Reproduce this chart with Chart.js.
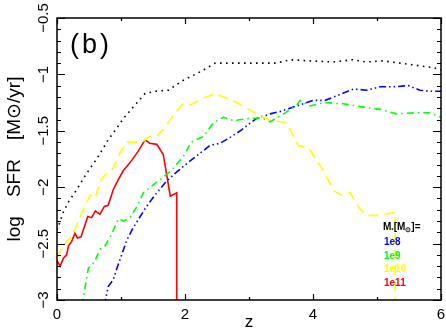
<!DOCTYPE html>
<html>
<head>
<meta charset="utf-8">
<script src="https://cdn.jsdelivr.net/npm/chart.js@4/dist/chart.umd.min.js"></script>
<style>
    html, body { margin: 0; padding: 0; background: #fff; }
    canvas { display: block; }
</style>
</head>
<body>
<canvas id="chart" width="446" height="333"></canvas>
<script>
// redshift / log SFR
var zAll = [0, 0.1, 0.18, 0.31, 0.46, 0.62, 0.8, 0.93, 1.04, 1.19, 1.375, 1.53, 1.74, 1.95, 2.26, 2.47, 2.65, 3.02, 3.43, 3.64, 3.95, 4.32, 4.62, 4.84, 5.1, 5.36, 5.62, 5.88, 6.0];
var sfrAll = [-2.38, -2.22, -2.13, -2.02, -1.88, -1.75, -1.58, -1.48, -1.39, -1.29, -1.17, -1.15, -1.14, -1.06, -0.97, -0.90, -0.90, -0.90, -0.90, -0.87, -0.88, -0.89, -0.87, -0.89, -0.88, -0.90, -0.92, -0.94, -0.96];

var z1e8 = [0.74, 0.80, 0.88, 0.93, 1.01, 1.09, 1.19, 1.30, 1.40, 1.53, 1.69, 1.84, 2.03, 2.21, 2.39, 2.55, 2.73, 2.89, 3.02, 3.12, 3.33, 3.48, 3.64, 3.85, 4.0, 4.19, 4.37, 4.63, 4.84, 5.05, 5.25, 5.49, 5.67, 5.83, 6.0];
var sfr1e8 = [-3.05, -2.88, -2.82, -2.73, -2.60, -2.47, -2.36, -2.26, -2.17, -2.07, -1.96, -1.88, -1.79, -1.71, -1.63, -1.61, -1.55, -1.49, -1.43, -1.39, -1.35, -1.33, -1.30, -1.26, -1.23, -1.23, -1.19, -1.13, -1.14, -1.11, -1.11, -1.10, -1.14, -1.15, -1.15];

var z1e9 = [0.39, 0.46, 0.49, 0.59, 0.67, 0.75, 0.85, 0.96, 1.04, 1.14, 1.25, 1.35, 1.48, 1.64, 1.79, 1.97, 2.10, 2.21, 2.29, 2.44, 2.60, 2.76, 3.02, 3.22, 3.33, 3.54, 3.75, 3.80, 3.95, 4.16, 4.47, 4.79, 5.05, 5.31, 5.62, 5.83, 6.0];
var sfr1e9 = [-3.05, -2.82, -2.72, -2.66, -2.55, -2.52, -2.42, -2.28, -2.30, -2.27, -2.17, -2.05, -1.99, -1.92, -1.85, -1.73, -1.60, -1.57, -1.55, -1.43, -1.38, -1.41, -1.39, -1.39, -1.42, -1.35, -1.27, -1.23, -1.28, -1.25, -1.26, -1.29, -1.31, -1.35, -1.34, -1.34, -1.38];

var z1e10 = [0, 0.07, 0.15, 0.23, 0.29, 0.41, 0.52, 0.59, 0.70, 0.78, 0.88, 0.98, 1.09, 1.25, 1.35, 1.48, 1.56, 1.71, 1.82, 1.97, 2.08, 2.29, 2.47, 2.78, 3.12, 3.30, 3.59, 3.77, 3.93, 4.16, 4.32, 4.45, 4.58, 4.73, 4.84, 5.05, 5.28, 5.29];
var sfr1e10 = [-2.63, -2.54, -2.48, -2.44, -2.36, -2.20, -2.07, -2.10, -1.92, -1.88, -1.83, -1.70, -1.60, -1.60, -1.59, -1.54, -1.55, -1.45, -1.36, -1.26, -1.27, -1.21, -1.17, -1.24, -1.35, -1.40, -1.43, -1.63, -1.65, -1.85, -2.03, -2.07, -2.05, -2.19, -2.25, -2.25, -2.22, -3.5];

var z1e11 = [0, 0.05, 0.10, 0.15, 0.18, 0.23, 0.28, 0.32, 0.375, 0.44, 0.48, 0.54, 0.60, 0.67, 0.74, 0.80, 0.88, 0.96, 1.04, 1.10, 1.17, 1.27, 1.375, 1.45, 1.56, 1.66, 1.77, 1.87, 1.87];
var sfr1e11 = [-2.65, -2.70, -2.63, -2.60, -2.52, -2.48, -2.41, -2.45, -2.44, -2.33, -2.26, -2.27, -2.21, -2.24, -2.17, -2.16, -2.02, -1.93, -1.85, -1.81, -1.76, -1.68, -1.58, -1.61, -1.62, -1.71, -2.08, -2.05, -3.5];

var massLabels = ['1e8', '1e9', '1e10', '1e11'];
var massColors = ['#0000ff', '#00ff00', '#ffff00', '#ff0000'];

var yTickValues = [-3, -2.5, -2, -1.5, -1, -0.5];
var yTickLabels = ['\u22123', '\u22122.5', '\u22122', '\u22121.5', '\u22121', '\u22120.5'];
var xTickValues = [0, 2, 4, 6];
var xTickLabels = ['0', '2', '4', '6'];

var FONT = '"Liberation Sans", Arial, sans-serif';

function pairs(xs, ys) {
    return xs.map(function (x, i) { return { x: x, y: ys[i] }; });
}

function line(label, xs, ys, color, dash) {
    return {
        label: label,
        data: pairs(xs, ys),
        borderColor: color,
        borderWidth: 1.6,
        borderDash: dash,
        pointRadius: 0,
        tension: 0,
        fill: false
    };
}

var frame = {
    id: 'frame',
    afterDraw: function (chart) {
        var ctx = chart.ctx, a = chart.chartArea;
        var xs = chart.scales.x, ys = chart.scales.y;
        var v, p, i;
        ctx.save();
        ctx.strokeStyle = '#000';
        ctx.lineWidth = 1.5;
        ctx.strokeRect(a.left, a.top, a.right - a.left, a.bottom - a.top);

        ctx.lineWidth = 1.2;
        ctx.beginPath();
        // y ticks every 0.1, big every 0.5
        for (i = 0; i <= 25; i++) {
            v = -3 + i * 0.1;
            p = Math.round(ys.getPixelForValue(v)) + 0.5;
            var len = (i % 5 === 0) ? 8 : 4;
            ctx.moveTo(a.left, p); ctx.lineTo(a.left + len, p);
            ctx.moveTo(a.right, p); ctx.lineTo(a.right - len, p);
        }
        // x ticks every 1, big every 2
        for (i = 0; i <= 6; i++) {
            p = Math.round(xs.getPixelForValue(i)) + 0.5;
            var l2 = (i % 2 === 0) ? 6 : 3;
            ctx.moveTo(p, a.bottom); ctx.lineTo(p, a.bottom - l2);
            ctx.moveTo(p, a.top); ctx.lineTo(p, a.top + l2);
        }
        ctx.stroke();

        // rotated y tick labels
        ctx.fillStyle = '#000';
        ctx.font = '15px ' + FONT;
        ctx.textAlign = 'center';
        ctx.textBaseline = 'middle';
        yTickValues.forEach(function (val, k) {
            ctx.save();
            ctx.translate(43.5, ys.getPixelForValue(val));
            ctx.rotate(-Math.PI / 2);
            ctx.fillText(yTickLabels[k], 0, 0);
            ctx.restore();
        });

        // panel tag
        ctx.font = '27px ' + FONT;
        ctx.textAlign = 'left';
        ctx.letterSpacing = '3px';
        ctx.fillText('(b)', 70, 46);
        ctx.letterSpacing = '0px';

        // mass key
        var x0 = 383, y0 = 227;
        ctx.font = 'bold 10px ' + FONT;
        var x = x0;
        ctx.fillText('M', x, y0); x += ctx.measureText('M').width;
        ctx.font = 'bold 6px ' + FONT;
        ctx.fillText('*', x, y0 + 3); x += ctx.measureText('*').width;
        ctx.font = 'bold 10px ' + FONT;
        ctx.fillText('[M', x, y0); x += ctx.measureText('[M').width;
        ctx.font = 'bold 7px ' + FONT;
        ctx.fillText('\u2299', x, y0 + 3); x += ctx.measureText('\u2299').width;
        ctx.font = 'bold 10px ' + FONT;
        ctx.fillText(']=', x, y0);
        massLabels.forEach(function (t, k) {
            ctx.fillStyle = massColors[k];
            ctx.fillText(t, x0 + 1, 242 + k * 13.8);
        });
        ctx.restore();
    }
};

var ctx = document.getElementById('chart').getContext('2d');

var chart = new Chart(ctx, {
    type: 'line',
    data: {
        datasets: [
            line('all', zAll, sfrAll, '#000000', [1.6, 4.4]),
            line('1e10', z1e10, sfr1e10, '#ffff00', [10, 6]),
            line('1e9', z1e9, sfr1e9, '#00ff00', [7, 4, 1.5, 4]),
            line('1e8', z1e8, sfr1e8, '#0000ff', [7, 3, 1.5, 3, 1.5, 3]),
            line('1e11', z1e11, sfr1e11, '#ff0000', [])
        ]
    },
    options: {
        responsive: false,
        devicePixelRatio: 1,
        animation: false,
        layout: { padding: { top: 18, right: 5, left: 0, bottom: 0 } },
        plugins: {
            legend: { display: false },
            tooltip: { enabled: false }
        },
        scales: {
            x: {
                type: 'linear',
                min: 0,
                max: 6,
                grid: { display: false, drawTicks: false },
                border: { display: false },
                afterFit: function (s) {
                    s.height = 33;
                    s.paddingLeft = 0;
                    s.paddingRight = 0;
                },
                afterBuildTicks: function (s) {
                    s.ticks = xTickValues.map(function (v) { return { value: v }; });
                },
                ticks: {
                    padding: 6,
                    maxRotation: 0,
                    color: '#000',
                    font: { family: FONT, size: 15 },
                    callback: function (v) {
                        var k = xTickValues.indexOf(v);
                        return k < 0 ? '' : xTickLabels[k];
                    }
                },
                title: {
                    display: true,
                    text: 'z',
                    color: '#000',
                    padding: 0,
                    font: { family: FONT, size: 17 }
                }
            },
            y: {
                type: 'linear',
                min: -3,
                max: -0.5,
                grid: { display: false, drawTicks: false },
                border: { display: false },
                ticks: { display: false },
                afterFit: function (s) { s.width = 57; },
                title: {
                    display: true,
                    text: 'log\u2003SFR\u2003[M\u2299/yr]',
                    color: '#000',
                    padding: { top: 3, bottom: 0 },
                    font: { family: FONT, size: 19 }
                }
            }
        }
    },
    plugins: [frame]
});
</script>
</body>
</html>
